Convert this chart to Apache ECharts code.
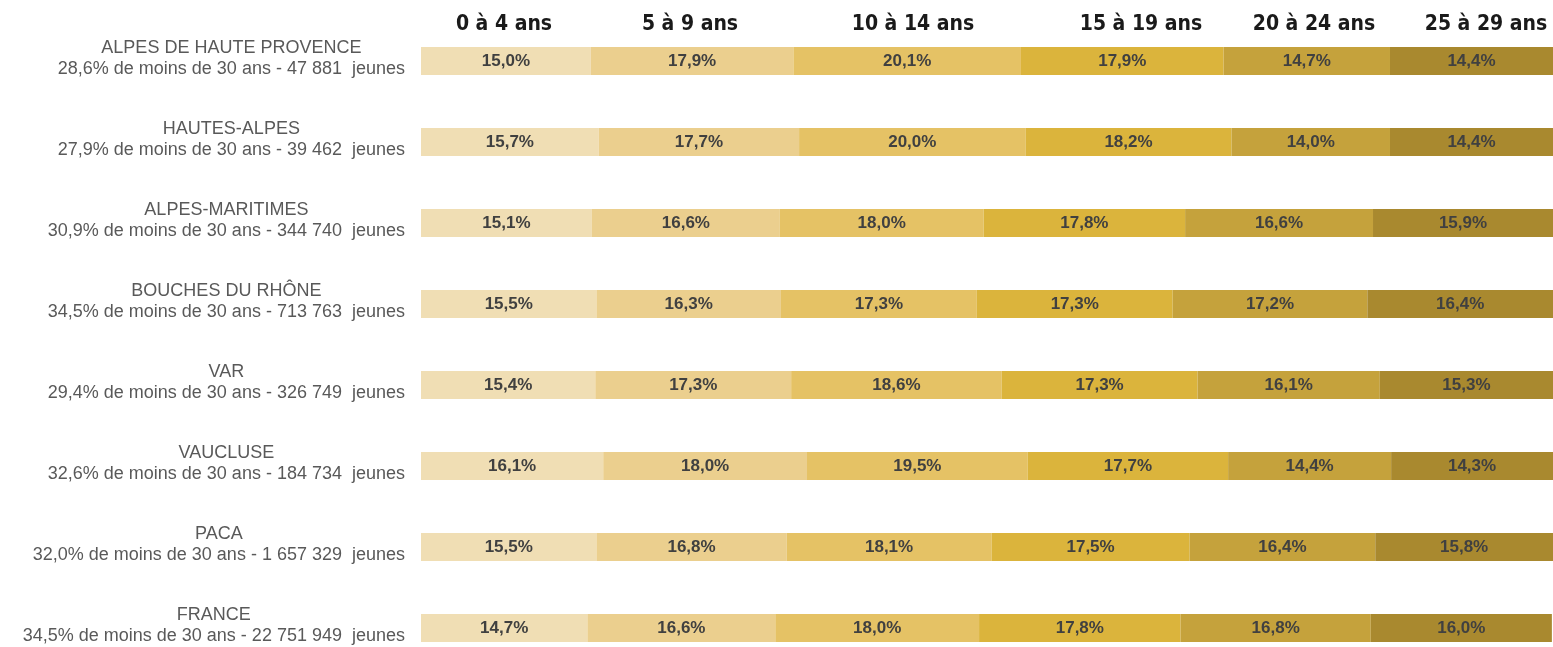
<!DOCTYPE html>
<html>
<head>
<meta charset="utf-8">
<script src="https://cdn.jsdelivr.net/npm/echarts@6/dist/echarts.min.js"></script>
<style>html,body{margin:0;padding:0;background:#fff}#c{width:1553px;height:647px}</style>
</head>
<body>
<div id="c"></div>
<script>
const regions = ['ALPES DE HAUTE PROVENCE','HAUTES-ALPES','ALPES-MARITIMES','BOUCHES DU RHÔNE','VAR','VAUCLUSE','PACA','FRANCE'];
const regionStats = [
  '28,6% de moins de 30 ans - 47 881  jeunes',
  '27,9% de moins de 30 ans - 39 462  jeunes',
  '30,9% de moins de 30 ans - 344 740  jeunes',
  '34,5% de moins de 30 ans - 713 763  jeunes',
  '29,4% de moins de 30 ans - 326 749  jeunes',
  '32,6% de moins de 30 ans - 184 734  jeunes',
  '32,0% de moins de 30 ans - 1 657 329  jeunes',
  '34,5% de moins de 30 ans - 22 751 949  jeunes'
];
const ageGroups = ['0 à 4 ans','5 à 9 ans','10 à 14 ans','15 à 19 ans','20 à 24 ans','25 à 29 ans'];
const age0_4   = [15.0,15.7,15.1,15.5,15.4,16.1,15.5,14.7];
const age5_9   = [17.9,17.7,16.6,16.3,17.3,18.0,16.8,16.6];
const age10_14 = [20.1,20.0,18.0,17.3,18.6,19.5,18.1,18.0];
const age15_19 = [17.9,18.2,17.8,17.3,17.3,17.7,17.5,17.8];
const age20_24 = [14.7,14.0,16.6,17.2,16.1,14.4,16.4,16.8];
const age25_29 = [14.4,14.4,15.9,16.4,15.3,14.3,15.8,16.0];

const seriesValues = [age0_4, age5_9, age10_14, age15_19, age20_24, age25_29];
const colors = ['#f0deb4','#ebcf8e','#e5c265','#dbb43c','#c5a23c','#a9892f'];
const headerX = [504, 690, 913, 1141, 1314, 1486];

const chart = echarts.init(document.getElementById('c'), null, {renderer:'canvas'});
const cats = regions.map((r,i)=>r+'\n'+regionStats[i]);

const option = {
  animation:false,
  backgroundColor:'#ffffff',
  grid:{left:421, right:0, top:20.5, height:648, containLabel:false, outerBoundsMode:'none'},
  xAxis:{type:'value', min:0, max:100, show:false},
  yAxis:{
    type:'category', inverse:true, data:cats,
    axisLine:{show:false}, axisTick:{show:false},
    axisLabel:{
      align:'right', margin:16,
      formatter:function(v){ const p=v.split('\n'); return '{a|'+p[0]+'}\n{b|'+p[1]+'}'; },
      rich:{
        a:{align:'center', fontFamily:'Liberation Sans, Arial, sans-serif', fontSize:18, color:'#595959', lineHeight:21},
        b:{align:'center', fontFamily:'Liberation Sans, Arial, sans-serif', fontSize:18, color:'#595959', lineHeight:21}
      },
      padding:[0,0,4,0]
    }
  },
  series: seriesValues.map((vals,i)=>({
    name:ageGroups[i], type:'bar', stack:'total', data:vals, barWidth:28,
    itemStyle:{color:colors[i]},
    label:{show:true, position:'inside', formatter:p=>p.value.toFixed(1).replace('.',',')+'%',
      fontFamily:'Liberation Sans, Arial, sans-serif', fontWeight:'bold', fontSize:17, color:'#404040'}
  })),
  graphic: ageGroups.map((g,i)=>({
    type:'text', x:headerX[i], y:25,
    style:{text:g, textAlign:'center', textVerticalAlign:'middle',
      font:'bold 21px "DejaVu Sans Condensed", sans-serif', fill:'#1a1a1a'}
  }))
};
chart.setOption(option);
</script>
</body>
</html>
